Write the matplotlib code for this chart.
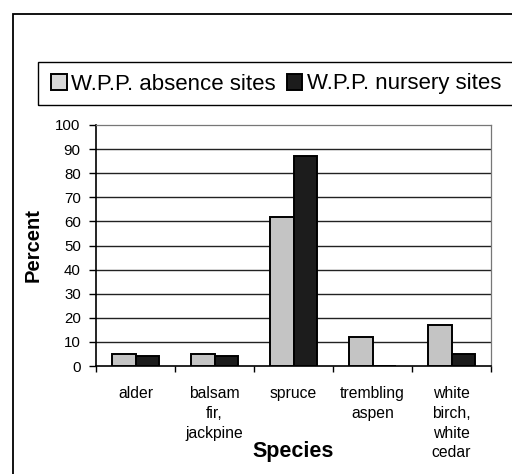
import numpy as np
import matplotlib.pyplot as plt
from matplotlib.patches import Rectangle, Patch

plt.rcParams['font.family'] = ['Liberation Sans', 'DejaVu Sans']

species = ['alder', 'balsam\nfir,\njackpine', 'spruce', 'trembling\naspen',
           'white\nbirch,\nwhite\ncedar']
absence = [5, 5, 62, 12, 17]
nursery = [4, 4, 87, 0, 5]
yticks = list(range(0, 101, 10))

fig = plt.figure(figsize=(5.12, 4.74), dpi=100)
ax = fig.add_axes([96 / 512, 1 - 366 / 474, 395 / 512, 241 / 474])

x = np.arange(len(species))
w = 0.297
ax.bar(x - w / 2, absence, w, color='#c4c4c4', edgecolor='black', linewidth=1.4, zorder=3)
ax.bar(x + w / 2, nursery, w, color='#1c1c1c', edgecolor='black', linewidth=1.4, zorder=3)

ax.set_xlim(-0.5, len(species) - 0.5)
ax.set_ylim(0, 100)
ax.set_yticks(yticks)
ax.tick_params(axis='y', labelsize=10.8, length=5, width=1, pad=6)
ax.set_xticks(np.arange(len(species) + 1) - 0.5)
ax.set_xticklabels([])
ax.tick_params(axis='x', length=4, width=1)
for i, lab in enumerate(species):
    ax.text(i, -8.3, lab, ha='center', va='top', fontsize=11.3, linespacing=1.4,
            transform=ax.transData)

for v in yticks[1:-1]:
    ax.axhline(v, color='#222222', linewidth=1.0, zorder=1)

for s in ['top', 'right']:
    ax.spines[s].set_color('#777777')
    ax.spines[s].set_linestyle((0, (2, 1)))
    ax.spines[s].set_linewidth(0.9)
for s in ['left', 'bottom']:
    ax.spines[s].set_linewidth(1.2)

ax.set_ylabel('Percent', fontsize=14.5, fontweight='bold')
ax.yaxis.set_label_coords(-0.135, 0.5)
fig.text(293 / 512, 1 - 452 / 474, 'Species', ha='center', va='center',
         fontsize=15.5, fontweight='bold')

# outer frame and legend box
fig.patches.append(Rectangle((13 / 512, -0.05), 1.1, 1.05 - 14 / 474,
                             transform=fig.transFigure, fill=False,
                             edgecolor='black', linewidth=1.3))
fig.patches.append(Rectangle((38 / 512, 1 - 105 / 474), 1.0, 43 / 474,
                             transform=fig.transFigure, fill=False,
                             edgecolor='black', linewidth=1.0))
handles = [Patch(facecolor='#d8d8d8', edgecolor='black', linewidth=1.4),
           Patch(facecolor='#1c1c1c', edgecolor='black', linewidth=1.4)]
fig.legend(handles, ['W.P.P. absence sites', 'W.P.P. nursery sites'],
           loc='center left', bbox_to_anchor=(40 / 512, 1 - 84 / 474),
           ncol=2, frameon=False, fontsize=16, handlelength=0.7,
           handleheight=0.7, handletextpad=0.2, columnspacing=0.5, borderpad=0)

fig.savefig('out.png', dpi=100)
